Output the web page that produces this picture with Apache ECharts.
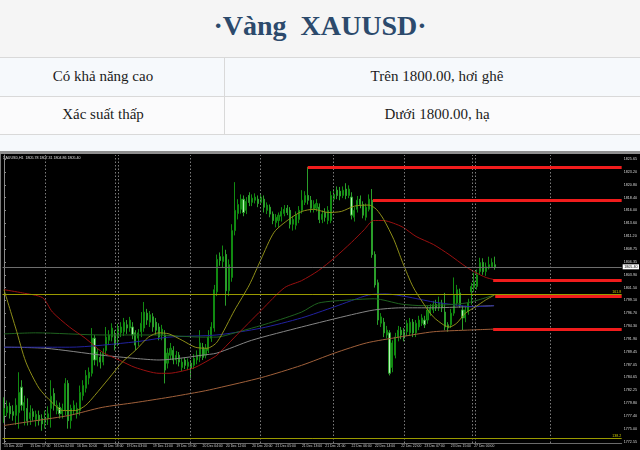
<!DOCTYPE html>
<html><head><meta charset="utf-8">
<script src="https://cdn.jsdelivr.net/npm/echarts@6/dist/echarts.min.js"></script>
<style>
html,body{margin:0;padding:0;background:#f5f5f5;}
#wrap{position:relative;width:640px;height:450px;overflow:hidden;font-family:'Liberation Serif','Times New Roman',serif;}
#title{position:absolute;left:0;top:0;width:640px;height:57px;line-height:51px;text-align:center;font-weight:bold;font-size:28px;color:#2c4a6c;white-space:pre;background:#f5f5f5;}
.bg{position:absolute;left:0;width:640px;}
.hl{position:absolute;left:0;width:640px;height:1px;background:#d9d9d9;}
.vl{position:absolute;left:224px;top:57px;width:1px;height:78px;background:#d9d9d9;}
.cell{position:absolute;text-align:center;font-size:15px;color:#1b1b1b;white-space:nowrap;}
#strip{position:absolute;left:0;top:151px;width:640px;height:3px;background:#8f8f8f;}
#lborder{position:absolute;left:0;top:154px;width:1px;height:296px;background:#7a7a7a;}
#chart{position:absolute;left:1px;top:154px;width:639px;height:296px;background:#000;}
</style></head>
<body>
<div id="wrap">
  <div id="title">·Vàng  XAUUSD·</div>
  <div class="bg" style="top:58px;height:38px;background:#f6f9fc"></div>
  <div class="bg" style="top:97px;height:37px;background:#fbfbfc"></div>
  <div class="bg" style="top:135px;height:16px;background:#f6f9fc"></div>
  <div class="hl" style="top:57px"></div>
  <div class="hl" style="top:96px"></div>
  <div class="hl" style="top:134px"></div>
  <div class="vl"></div>
  <div class="cell" style="left:0;width:206px;top:58px;line-height:37px;">Có khả năng cao</div>
  <div class="cell" style="left:234px;width:406px;top:58px;line-height:37px;">Trên 1800.00, hơi ghê</div>
  <div class="cell" style="left:0;width:206px;top:97px;line-height:34px;">Xác suất thấp</div>
  <div class="cell" style="left:234px;width:406px;top:97px;line-height:34px;">Dưới 1800.00, hạ</div>
  <div id="strip"></div>
  <div id="lborder"></div>
  <div id="chart"></div>
</div>
<script>
const N = 212;
const symbolName = 'XAUUSD,H1';
const timeLabels = [[0,'15 Dec 2022'],[9,'15 Dec 17:00'],[17,'16 Dec 02:00'],[25,'16 Dec 10:00'],[34,'16 Dec 18:00'],[42,'19 Dec 03:00'],[51,'19 Dec 11:00'],[59,'19 Dec 19:00'],[68,'20 Dec 04:00'],[76,'20 Dec 12:00'],[85,'20 Dec 20:00'],[93,'21 Dec 05:00'],[102,'21 Dec 13:00'],[110,'21 Dec 21:00'],[119,'22 Dec 06:00'],[127,'22 Dec 14:00'],[136,'22 Dec 22:00'],[144,'23 Dec 07:00'],[153,'23 Dec 15:00'],[161,'27 Dec 00:00']];
const yTickValues = [1825.65,1823.20,1820.80,1818.40,1816.00,1813.60,1811.20,1808.75,1806.35,1803.90,1801.50,1799.10,1796.70,1794.30,1791.90,1789.45,1787.05,1784.65,1782.25,1779.80,1777.40,1775.00,1772.55];
// [open, close, low, high]
const ohlc = [
[1777.5,1778.8,1776.1,1780.9],[1778.0,1779.2,1777.3,1780.3],[1779.2,1777.8,1776.9,1779.9],[1778.2,1777.5,1776.5,1779.4],[1777.5,1779.4,1775.7,1780.7],
[1778.0,1781.8,1775.0,1785.6],[1782.8,1779.4,1778.4,1784.1],[1778.4,1779.9,1775.6,1781.2],[1778.8,1776.5,1775.6,1780.7],[1776.9,1778.0,1775.7,1779.4],
[1778.2,1777.3,1776.5,1778.8],[1776.7,1777.7,1775.4,1778.4],[1777.5,1776.5,1775.6,1778.4],[1776.9,1775.9,1774.6,1777.7],[1776.1,1777.1,1775.0,1778.4],
[1776.9,1777.8,1775.7,1779.2],[1778.8,1781.1,1775.2,1784.1],[1781.6,1779.4,1778.4,1782.6],[1778.4,1779.4,1777.7,1780.3],[1779.0,1777.8,1776.9,1779.9],
[1777.8,1778.8,1776.9,1779.7],[1778.4,1783.5,1777.5,1784.5],[1783.5,1776.5,1775.0,1784.1],[1776.5,1778.8,1775.0,1779.5],[1778.4,1779.4,1777.7,1780.3],
[1777.8,1778.8,1776.9,1779.9],[1778.4,1781.8,1777.5,1783.1],[1781.2,1783.1,1780.3,1784.1],[1782.6,1785.0,1781.8,1786.0],[1784.5,1785.6,1783.3,1786.5],
[1785.4,1792.0,1784.8,1793.9],[1792.0,1787.9,1786.9,1792.6],[1787.9,1789.4,1786.7,1790.1],[1788.4,1787.5,1786.3,1789.4],[1787.5,1789.4,1786.9,1790.1],
[1789.7,1792.2,1788.8,1794.1],[1791.6,1792.6,1790.7,1793.5],[1792.2,1793.9,1791.4,1794.8],[1792.6,1790.7,1789.7,1793.5],[1792.2,1793.9,1790.5,1794.7],
[1793.0,1794.1,1792.2,1795.0],[1793.2,1795.0,1792.4,1795.8],[1794.5,1793.9,1792.8,1795.4],[1793.9,1795.4,1793.2,1796.0],[1794.1,1792.6,1791.8,1795.0],
[1793.0,1790.7,1789.7,1793.5],[1792.0,1793.0,1790.5,1793.7],[1793.2,1794.8,1792.2,1796.9],[1793.9,1796.9,1793.2,1798.8],[1796.7,1795.4,1794.5,1797.5],
[1795.0,1796.4,1794.1,1797.1],[1796.0,1794.1,1793.2,1796.7],[1795.0,1793.5,1792.6,1795.8],[1794.1,1792.2,1791.6,1794.8],[1792.6,1793.7,1791.6,1794.5],
[1792.6,1786.0,1783.5,1793.5],[1787.3,1789.2,1786.3,1790.1],[1788.8,1790.1,1787.9,1791.1],[1789.7,1787.9,1787.1,1790.5],[1787.9,1788.8,1787.1,1789.6],
[1788.8,1787.5,1786.7,1789.4],[1786.5,1787.5,1785.8,1788.2],[1787.9,1786.9,1786.2,1788.4],[1786.7,1787.5,1786.0,1788.2],[1787.3,1786.3,1784.5,1787.9],
[1786.9,1788.2,1786.2,1789.0],[1787.9,1788.8,1787.1,1789.7],[1788.4,1791.1,1787.5,1793.5],[1790.3,1788.4,1787.9,1791.1],[1788.8,1790.1,1788.2,1790.9],
[1789.7,1792.2,1789.2,1793.5],[1792.0,1794.1,1791.3,1795.0],[1793.9,1801.1,1793.2,1802.0],[1800.7,1806.8,1799.9,1807.7],[1807.3,1806.6,1805.6,1808.1],
[1806.4,1807.3,1805.2,1809.4],[1807.7,1800.9,1798.1,1808.6],[1800.9,1805.8,1799.9,1806.8],[1803.4,1812.2,1802.6,1813.4],[1812.2,1816.0,1811.3,1821.3],
[1815.4,1817.1,1814.3,1818.1],[1816.2,1818.1,1815.4,1819.0],[1818.1,1815.6,1814.9,1818.8],[1816.0,1817.7,1815.3,1818.5],[1818.8,1817.5,1816.8,1819.4],
[1817.5,1818.3,1816.8,1819.0],[1817.9,1818.5,1817.3,1819.2],[1818.1,1817.3,1816.6,1818.8],[1817.5,1818.5,1817.0,1819.2],[1818.1,1816.6,1815.6,1818.8],
[1816.0,1817.0,1815.3,1817.5],[1816.6,1815.3,1814.7,1817.1],[1815.3,1814.1,1813.4,1815.8],[1813.7,1814.7,1812.8,1815.3],[1814.1,1815.1,1812.8,1815.6],
[1814.9,1815.8,1813.9,1816.6],[1815.4,1816.2,1814.9,1817.0],[1816.4,1815.6,1815.1,1817.0],[1816.0,1813.4,1812.6,1816.6],[1813.4,1814.3,1812.2,1814.9],
[1813.2,1815.1,1812.4,1815.8],[1814.3,1816.0,1813.6,1816.8],[1816.0,1817.9,1815.4,1819.8],[1817.5,1818.8,1817.0,1819.6],[1818.8,1817.9,1817.1,1824.15],
[1817.9,1816.4,1815.6,1818.7],[1816.2,1817.1,1815.6,1817.9],[1816.4,1817.3,1815.8,1818.1],[1816.6,1814.3,1813.6,1817.3],[1814.3,1815.3,1813.6,1816.0],
[1815.6,1814.7,1813.9,1816.4],[1814.1,1816.0,1813.4,1816.8],[1814.1,1818.8,1813.6,1819.6],[1818.1,1819.0,1817.5,1820.0],[1819.8,1818.8,1818.1,1820.5],
[1819.6,1818.7,1817.9,1820.4],[1818.8,1819.8,1818.3,1820.5],[1820.0,1818.8,1818.1,1821.1],[1818.8,1820.0,1818.3,1820.7],[1818.5,1815.1,1814.3,1819.4],
[1814.7,1816.0,1813.9,1816.6],[1816.2,1817.9,1815.6,1818.7],[1818.1,1817.1,1816.4,1818.8],[1817.1,1815.1,1814.5,1817.7],[1814.7,1816.6,1814.1,1817.3],
[1816.2,1818.1,1815.8,1819.0],[1817.9,1807.7,1807.1,1820.0],[1807.7,1802.0,1801.5,1808.3],[1802.4,1795.4,1794.5,1803.0],[1794.8,1796.0,1794.1,1796.7],
[1795.0,1793.0,1792.2,1795.8],[1792.6,1793.5,1792.0,1794.3],[1793.0,1785.4,1785.0,1793.5],[1786.5,1791.1,1785.6,1791.6],[1788.8,1792.2,1788.2,1793.0],
[1792.2,1793.5,1791.4,1794.3],[1793.5,1792.6,1791.8,1794.1],[1793.2,1792.0,1791.4,1793.9],[1793.2,1794.8,1792.4,1795.4],[1793.0,1795.0,1792.4,1795.8],
[1795.0,1793.0,1792.2,1795.6],[1793.0,1794.8,1792.2,1795.4],[1794.1,1795.4,1793.5,1796.2],[1794.8,1795.8,1794.3,1796.5],[1795.4,1794.5,1793.9,1796.2],
[1795.4,1797.3,1794.7,1798.1],[1796.7,1797.7,1796.2,1798.4],[1797.3,1798.3,1796.7,1799.0],[1798.3,1797.7,1797.1,1799.2],[1797.7,1798.6,1797.1,1799.8],
[1798.6,1797.7,1796.9,1799.2],[1796.9,1794.1,1793.5,1800.5],[1794.5,1793.9,1793.2,1795.0],[1794.5,1796.7,1793.9,1797.5],[1796.7,1800.1,1796.2,1803.4],
[1798.6,1801.1,1798.1,1802.0],[1800.5,1798.3,1797.7,1801.3],[1797.3,1795.8,1793.5,1798.1],[1795.8,1797.3,1795.0,1798.1],[1796.9,1798.6,1796.4,1799.4],
[1800.7,1801.7,1798.3,1802.4],[1801.5,1802.6,1800.7,1804.3],[1801.7,1803.9,1801.1,1804.9],[1804.5,1806.2,1803.9,1807.1],[1806.2,1804.5,1803.9,1807.0],
[1804.5,1805.4,1803.7,1806.2],[1805.2,1805.8,1804.9,1807.3],[1805.4,1806.2,1805.2,1807.0],[1805.78,1805.40,1804.86,1807.31]
];
// moving-average lines: [bar index, price]
const maOlive = [[0,1801.1],[4,1793.9],[7.5,1787.5],[12,1782.6],[16.5,1779.9],[20,1778.4],[24.5,1778.4],[28,1779.4],[31,1781.2],[36,1784.5],[40.5,1787.5],[45,1789.7],[49.5,1792.2],[53,1793.0],[56.5,1792.8],[61,1791.6],[65.5,1790.3],[69.5,1790.1],[73,1791.3],[79,1797.3],[84,1802.0],[88,1806.8],[92.5,1811.9],[97.5,1814.3],[102,1815.8],[106,1816.2],[111,1815.6],[115.5,1815.8],[120,1816.8],[125,1817.0],[127.5,1816.2],[130,1814.3],[133.5,1810.5],[136.5,1806.2],[140,1801.7],[143.5,1798.6],[147,1796.0],[150.5,1794.5],[152.5,1794.1],[155,1794.8],[158,1796.7],[161.5,1797.9],[165,1799.2],[168,1800.1]];
const maRed = [[0,1801.1],[6.3,1800.5],[13.2,1799.6],[16.6,1796.9],[22.4,1794.1],[27.8,1792.0],[33.6,1789.4],[39.4,1787.9],[44.9,1786.5],[53.1,1785.4],[56.5,1785.4],[60.9,1785.8],[65.4,1786.5],[70.2,1787.9],[72.9,1788.8],[79,1792.2],[88.2,1797.3],[96.1,1801.5],[101.9,1802.8],[107.7,1804.7],[113.2,1807.1],[119,1810.0],[123.4,1812.4],[126.5,1814.1],[129.9,1814.1],[133.3,1813.6],[136.7,1812.8],[141.1,1811.1],[147,1809.6],[152.4,1807.7],[158.2,1805.4],[161.6,1804.3],[165,1803.4],[167.8,1803.0]];
const maGreen = [[0,1792.8],[10.8,1793.0],[33.6,1792.6],[51.7,1792.6],[67.8,1792.2],[72.9,1792.2],[79,1793.0],[90.6,1794.8],[101.9,1796.9],[107.7,1798.6],[119,1799.2],[126.8,1799.4],[136,1798.4],[143.5,1798.1],[152.4,1798.3],[158.2,1798.6],[162.6,1799.2],[167.8,1800.1]];
const maBlue = [[0,1790.3],[22.4,1790.3],[44.9,1791.3],[56.5,1792.2],[72.9,1792.6],[88.2,1793.9],[101.9,1795.8],[113.2,1797.9],[124.8,1800.1],[130.9,1800.3],[137.7,1799.8],[147,1798.8],[153.8,1798.3],[160.6,1797.9],[167.8,1798.1]];
const maGray = [[0,1790.3],[14.2,1790.1],[33.6,1788.8],[44.9,1788.2],[53.1,1787.9],[59.9,1788.2],[67.8,1788.8],[72.9,1789.2],[84.8,1791.6],[101.9,1794.1],[119,1796.4],[126.8,1797.3],[136,1797.7],[147,1797.7],[158.2,1797.9],[167.8,1798.1]];
const maBrown = [[0,1775.6],[10.8,1776.5],[22.4,1777.5],[33.6,1779.0],[44.9,1779.9],[56.5,1780.9],[67.8,1782.0],[72.9,1782.6],[88.2,1784.6],[101.9,1786.9],[113.2,1789.2],[124.1,1791.1],[135.3,1792.2],[147,1793.2],[158.2,1793.5],[167.8,1793.7]];
// red horizontal levels: [start bar, price]
const redLevels = [[104.0,1824.15],[126.3,1817.95],[167.5,1802.8],[168.2,1799.9],[167.5,1793.7]];
const fiboLevels = [[1800.2,'161.8'],[1773.2,'138.2']];
const gridBars = [14.2,38.1,39.1,63.7,87.9,112.8,137.1,160.3,161.3,186.9];
const bidPrice = 1805.40;

const labelMap = {};
timeLabels.forEach(([i, t]) => { labelMap[i] = t; });
const cats = Array.from({length: N}, (_, i) => String(i));
const last = ohlc[ohlc.length - 1];
const infoText = symbolName + '  ' + [last[0], last[3], last[2], last[1]].map(v => v.toFixed(2)).join(' ');

const FONT = 'Liberation Sans';
const maLine = (data, color) => ({
  type: 'line', xAxisIndex: 1, yAxisIndex: 0, data: data, symbol: 'none', showSymbol: false,
  smooth: 0.25, silent: true, z: 3, lineStyle: {color: color, width: 1}
});

const chart = echarts.init(document.getElementById('chart'));
chart.setOption({
  animation: false,
  backgroundColor: '#000',
  textStyle: {fontFamily: FONT},
  grid: {left: 0, right: 18, top: 1, bottom: 7},
  graphic: [{type: 'text', left: 2, top: 1.5, silent: true,
    style: {text: infoText, fill: '#e0e0e0', fontSize: 3.6, fontFamily: FONT}}],
  xAxis: [
    {type: 'category', data: cats, boundaryGap: true,
     axisLine: {show: true, lineStyle: {color: '#6a6a6a'}},
     axisTick: {show: false}, splitLine: {show: false},
     axisLabel: {interval: (i) => labelMap[i] !== undefined, formatter: (v, i) => labelMap[i] || '',
       align: 'left', fontSize: 3.4, color: '#d0d0d0', margin: 1.5, fontFamily: FONT}},
    {type: 'value', min: -0.5, max: N - 0.5, show: false}
  ],
  yAxis: {type: 'value', position: 'right', min: 1772.31, max: 1826.40,
    splitLine: {show: false},
    axisLine: {show: true, lineStyle: {color: '#8a8a8a'}},
    axisTick: {show: true, length: 2, customValues: yTickValues, lineStyle: {color: '#8a8a8a'}},
    axisLabel: {customValues: yTickValues, formatter: (v) => v.toFixed(2), fontSize: 3.7,
      color: '#d8d8d8', margin: 2, fontFamily: FONT}},
  series: [
    {type: 'line', xAxisIndex: 1, yAxisIndex: 0, data: [], z: 1, silent: true,
     markLine: {silent: true, symbol: ['none', 'none'], animation: false, label: {show: false},
       data: [
         ...gridBars.map(v => ({xAxis: v, lineStyle: {color: '#7c7c7c', type: [1.5, 2], width: 1}})),
         ...fiboLevels.map(([p, t]) => ({yAxis: p, lineStyle: {color: '#9a9a00', type: 'solid', width: 1},
           label: {show: true, position: 'insideEndTop', formatter: t, color: '#c8c800', fontSize: 3.6, distance: 0.5}})),
         {yAxis: bidPrice, lineStyle: {color: '#6e6e6e', type: 'solid', width: 1},
          label: {show: true, position: 'end', formatter: bidPrice.toFixed(2), backgroundColor: '#ffffff',
            color: '#000', fontSize: 3.7, padding: [0.5, 1.5], distance: 1}}
       ]}},
    {type: 'candlestick', xAxisIndex: 0, yAxisIndex: 0, data: ohlc, barWidth: 1.6, z: 2, silent: true,
     itemStyle: {color: '#0a6e0a', color0: '#b8f2b8', borderColor: '#118a11', borderColor0: '#2a9e2a', borderWidth: 1}},
    maLine(maBrown, '#a0603a'),
    maLine(maGray, '#858585'),
    maLine(maBlue, '#2222a0'),
    maLine(maGreen, '#1f621f'),
    maLine(maRed, '#9a1010'),
    maLine(maOlive, '#8e8e18'),
    {type: 'line', xAxisIndex: 1, yAxisIndex: 0, data: [], z: 5, silent: true,
     markLine: {silent: true, symbol: ['none', 'none'], animation: false, label: {show: false},
       lineStyle: {color: '#f01c1c', width: 3, type: 'solid'},
       data: redLevels.map(([s, p]) => [{coord: [s, p]}, {coord: [N - 0.5, p]}])}}
  ]
});
</script>
</body></html>
